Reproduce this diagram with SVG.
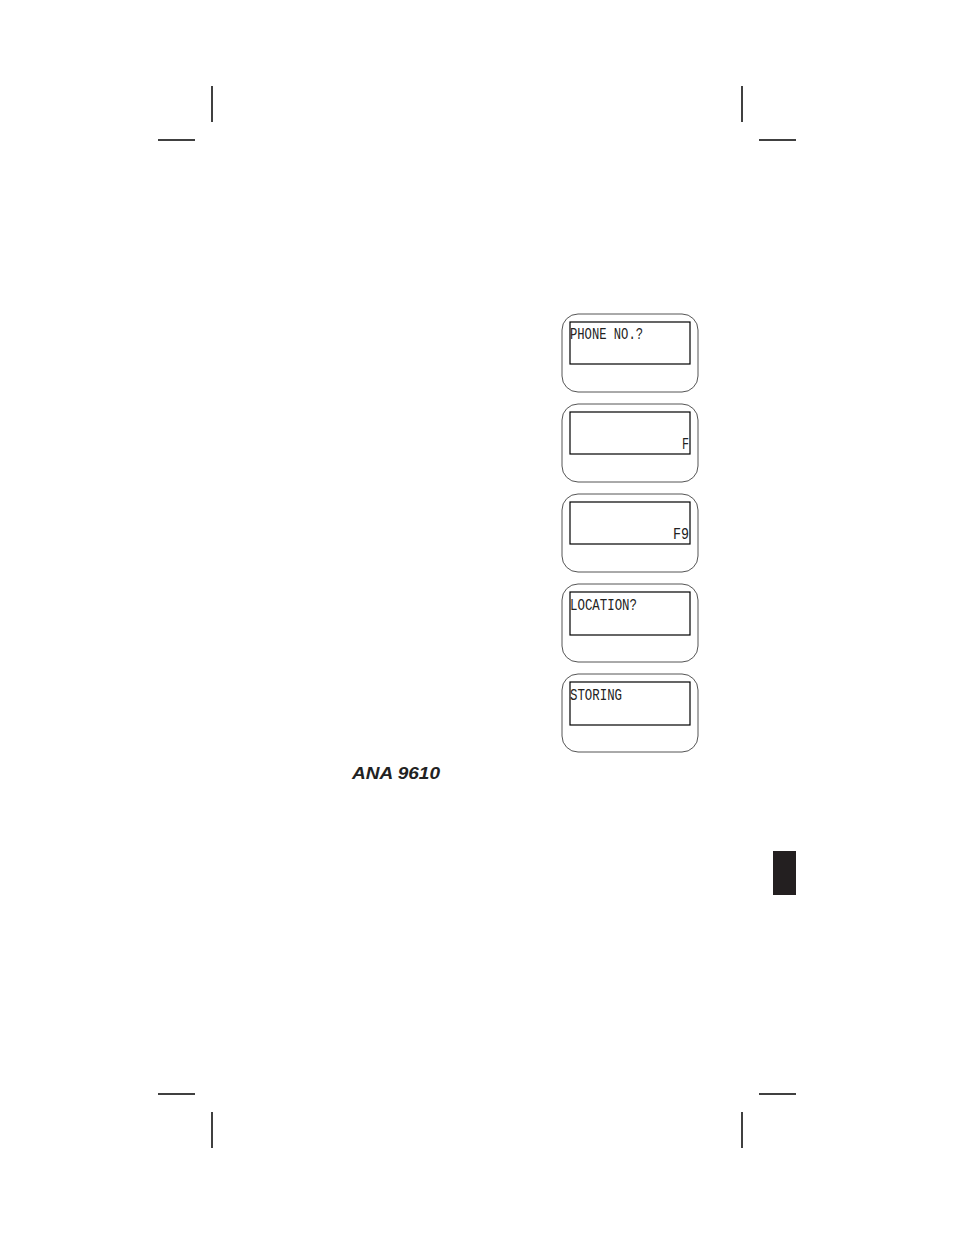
<svg xmlns="http://www.w3.org/2000/svg" width="954" height="1235" viewBox="0 0 954 1235">
<style>
.crop{stroke:#000;stroke-width:1.5;fill:none}
.outer{fill:none;stroke:#555;stroke-width:1}
.inner{fill:none;stroke:#000;stroke-width:1.2}
.lcd{font-family:"Liberation Mono",monospace;font-size:17px;fill:#222}
.lbl{font-family:"Liberation Sans",Arial,sans-serif;font-size:16px;font-weight:bold;font-style:italic;fill:#222}
</style>
<rect width="954" height="1235" fill="#fff"/>
<g id="cropmarks">
<line class="crop" x1="212" y1="86" x2="212" y2="122"/>
<line class="crop" x1="158" y1="140" x2="195" y2="140"/>
<line class="crop" x1="742" y1="86" x2="742" y2="122"/>
<line class="crop" x1="759" y1="140" x2="796" y2="140"/>
<line class="crop" x1="158" y1="1094" x2="195" y2="1094"/>
<line class="crop" x1="212" y1="1112" x2="212" y2="1148"/>
<line class="crop" x1="759" y1="1094" x2="796" y2="1094"/>
<line class="crop" x1="742" y1="1112" x2="742" y2="1148"/>
</g>
<g id="display1">
<rect class="outer" x="562" y="314" width="136" height="78" rx="16"/>
<rect class="inner" x="570" y="322" width="120" height="42"/>
<text class="lcd" x="570" y="339" textLength="73" lengthAdjust="spacingAndGlyphs">PHONE NO.?</text>
</g>
<g id="display2">
<rect class="outer" x="562" y="404" width="136" height="78" rx="16"/>
<rect class="inner" x="570" y="412" width="120" height="42"/>
<text class="lcd" x="682" y="449" textLength="7" lengthAdjust="spacingAndGlyphs">F</text>
</g>
<g id="display3">
<rect class="outer" x="562" y="494" width="136" height="78" rx="16"/>
<rect class="inner" x="570" y="502" width="120" height="42"/>
<text class="lcd" x="673" y="539" textLength="16" lengthAdjust="spacingAndGlyphs">F9</text>
</g>
<g id="display4">
<rect class="outer" x="562" y="584" width="136" height="78" rx="16"/>
<rect class="inner" x="570" y="592" width="120" height="43"/>
<text class="lcd" x="570" y="610" textLength="67" lengthAdjust="spacingAndGlyphs">LOCATION?</text>
</g>
<g id="display5">
<rect class="outer" x="562" y="674" width="136" height="78" rx="16"/>
<rect class="inner" x="570" y="682" width="120" height="43"/>
<text class="lcd" x="570" y="700" textLength="52" lengthAdjust="spacingAndGlyphs">STORING</text>
</g>
<g id="label">
<text class="lbl" x="352" y="779" textLength="88" lengthAdjust="spacingAndGlyphs">ANA 9610</text>
</g>
<g id="tab">
<rect x="773" y="851" width="23" height="44" fill="#231f20"/>
</g>
</svg>
